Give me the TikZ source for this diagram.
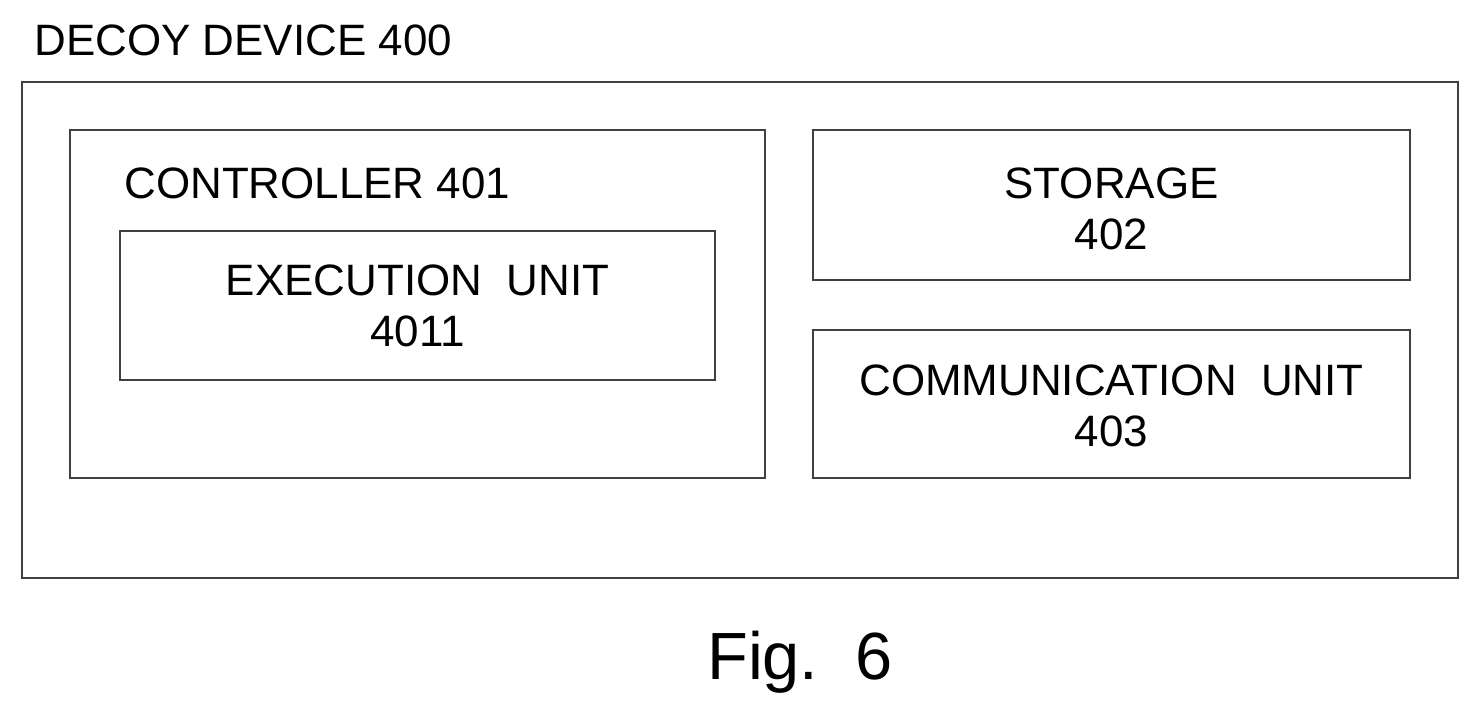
\documentclass[tikz,border=0pt]{standalone}
\usepackage{fontspec}
\setmainfont{Liberation Sans}
\tikzset{
  dcyBox/.style = {draw = black!75, line width = 0.6pt},
  dcyText/.style = {font = \fontsize{12.5}{14.5}\selectfont, align = center}
}
\def\dcyW{14.8}
\def\dcyH{7.17}
\begin{document}
\begin{tikzpicture}[x = 1cm, y = -1cm]
            \useasboundingbox (0,0) rectangle (\dcyW,\dcyH);
            %% outer device
            \draw [dcyBox] (0.22,0.82) rectangle (14.58,5.78);
            \node [dcyText, anchor = west] (title) at (0.22,0.40) {DECOY\ DEVICE\ 400};
            %% controller
            \draw [dcyBox] (0.70,1.30) rectangle (7.65,4.78);
            \node [dcyText, anchor = west] (ctrl) at (1.12,1.83) {CONTROLLER\ 401};
            \draw [dcyBox] (1.20,2.31) rectangle (7.15,3.80);
            \node [dcyText] (exec) at (4.175,3.06) {EXECUTION\ \ UNIT\\4011};
            %% storage
            \draw [dcyBox] (8.13,1.30) rectangle (14.10,2.80);
            \node [dcyText] (stor) at (11.115,2.09) {STORAGE\\402};
            %% communication
            \draw [dcyBox] (8.13,3.30) rectangle (14.10,4.78);
            \node [dcyText] (comm) at (11.115,4.06) {COMMUNICATION\ \ UNIT\\403};
            %% caption
            \node [font = \fontsize{19}{22}\selectfont] (fig) at (8.00,6.62) {Fig.\ \ 6};
\end{tikzpicture}
\end{document}
